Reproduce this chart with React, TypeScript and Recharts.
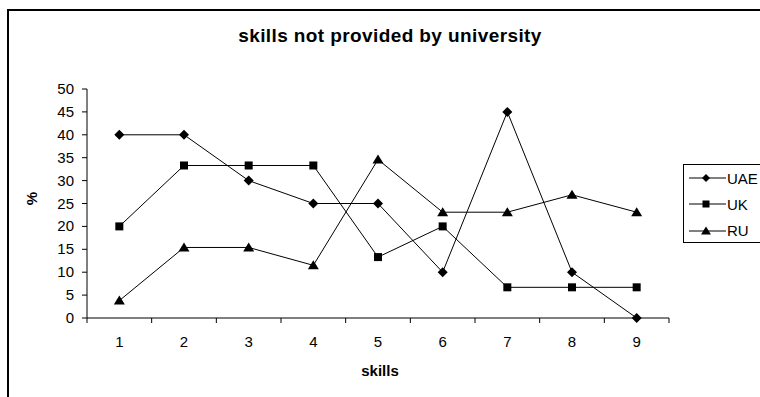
import { LineChart, Line, XAxis, YAxis } from 'recharts';

const categories = [1, 2, 3, 4, 5, 6, 7, 8, 9];
const uae = [40, 40, 30, 25, 25, 10, 45, 10, 0];
const uk = [20, 33.3, 33.3, 33.3, 13.3, 20, 6.7, 6.7, 6.7];
const ru = [3.8, 15.4, 15.4, 11.5, 34.6, 23.1, 23.1, 26.9, 23.1];
const seriesNames = ['UAE', 'UK', 'RU'];
const yTicks = [0, 5, 10, 15, 20, 25, 30, 35, 40, 45, 50];

const data = categories.map((c, i) => ({ skill: c, UAE: uae[i], UK: uk[i], RU: ru[i] }));

// labels at category centres, tick marks at the boundaries between them
const xTicks = [...categories.flatMap((c) => [c - 0.5, c]), categories[categories.length - 1] + 0.5];

const FONT = '"Liberation Sans", Arial, sans-serif';

function XTick({ x, y, payload }: any) {
  if (Number.isInteger(payload.value)) {
    return (
      <text x={x} y={y + 29} textAnchor="middle" fontSize={15} fontFamily={FONT} fill="#000">
        {payload.value}
      </text>
    );
  }
  return <line x1={x} y1={y} x2={x} y2={y + 5} stroke="#000" />;
}

function YTick({ x, y, payload }: any) {
  return (
    <text x={x} y={y + 5} textAnchor="end" fontSize={15} fontFamily={FONT} fill="#000">
      {payload.value}
    </text>
  );
}

function Diamond({ cx, cy, s = 5 }: any) {
  if (cx == null || cy == null) return null;
  return <polygon points={`${cx},${cy - s} ${cx + s},${cy} ${cx},${cy + s} ${cx - s},${cy}`} fill="#000" />;
}

function Square({ cx, cy, s = 4 }: any) {
  if (cx == null || cy == null) return null;
  return <rect x={cx - s} y={cy - s} width={2 * s} height={2 * s} fill="#000" />;
}

function Triangle({ cx, cy, s = 5 }: any) {
  if (cx == null || cy == null) return null;
  return <polygon points={`${cx},${cy - s} ${cx + s * 1.1},${cy + s * 0.8} ${cx - s * 1.1},${cy + s * 0.8}`} fill="#000" />;
}

const MARKERS: Record<string, (p: any) => any> = { UAE: Diamond, UK: Square, RU: Triangle };
const LEGEND_S: Record<string, number> = { UAE: 4, UK: 3.5, RU: 4.5 };

function LegendBox() {
  return (
    <div
      style={{
        position: 'absolute',
        left: 683,
        top: 164,
        border: '1px solid #000',
        width: 100,
        height: 79,
        boxSizing: 'border-box',
        background: '#fff',
      }}
    >
      {seriesNames.map((name) => {
        const M = MARKERS[name];
        return (
          <div key={name} style={{ height: 26.3, display: 'flex', alignItems: 'center' }}>
            <svg width={43} height={14} style={{ display: 'block' }}>
              <line x1={5} y1={7} x2={42} y2={7} stroke="#000" />
              <M cx={22} cy={7} s={LEGEND_S[name]} />
            </svg>
            <span style={{ fontSize: 15, fontFamily: FONT, color: '#000' }}>{name}</span>
          </div>
        );
      })}
    </div>
  );
}

export default function App() {
  return (
    <div
      style={{
        position: 'absolute',
        left: 0,
        top: 0,
        width: 760,
        height: 397,
        overflow: 'hidden',
        background: '#fff',
        fontFamily: FONT,
      }}
    >
      <div
        style={{
          position: 'absolute',
          left: 7,
          top: 9,
          width: 820,
          height: 440,
          border: '2px solid #000',
        }}
      />
      <div
        style={{
          position: 'absolute',
          left: 0,
          width: 780,
          top: 25,
          textAlign: 'center',
          fontWeight: 'bold',
          fontSize: 19,
          letterSpacing: 0.4,
        }}
      >
        skills not provided by university
      </div>
      <div
        style={{
          position: 'absolute',
          left: 25,
          top: 190,
          fontSize: 15,
          fontWeight: 'bold',
          transform: 'rotate(-90deg)',
        }}
      >
        %
      </div>
      <div
        style={{
          position: 'absolute',
          left: 280,
          width: 200,
          top: 362,
          textAlign: 'center',
          fontSize: 15,
          fontWeight: 'bold',
        }}
      >
        skills
      </div>
      <div style={{ position: 'absolute', left: 0, top: 0 }}>
        <LineChart width={760} height={397} data={data} margin={{ top: 89, right: 91, bottom: 49, left: 47 }}>
          <XAxis
            dataKey="skill"
            type="number"
            domain={[0.5, 9.5]}
            ticks={xTicks}
            interval={0}
            height={30}
            tickLine={false}
            tickSize={0}
            tickMargin={0}
            axisLine={{ stroke: '#000' }}
            tick={<XTick />}
          />
          <YAxis
            type="number"
            domain={[0, 50]}
            ticks={yTicks}
            interval={0}
            width={40}
            tickSize={5}
            tickMargin={8}
            axisLine={{ stroke: '#000' }}
            tickLine={{ stroke: '#000' }}
            tick={<YTick />}
          />
          <Line type="linear" dataKey="UAE" stroke="#000" strokeWidth={1} dot={<Diamond />} activeDot={false} isAnimationActive={false} />
          <Line type="linear" dataKey="UK" stroke="#000" strokeWidth={1} dot={<Square />} activeDot={false} isAnimationActive={false} />
          <Line type="linear" dataKey="RU" stroke="#000" strokeWidth={1} dot={<Triangle />} activeDot={false} isAnimationActive={false} />
        </LineChart>
      </div>
      <LegendBox />
    </div>
  );
}
